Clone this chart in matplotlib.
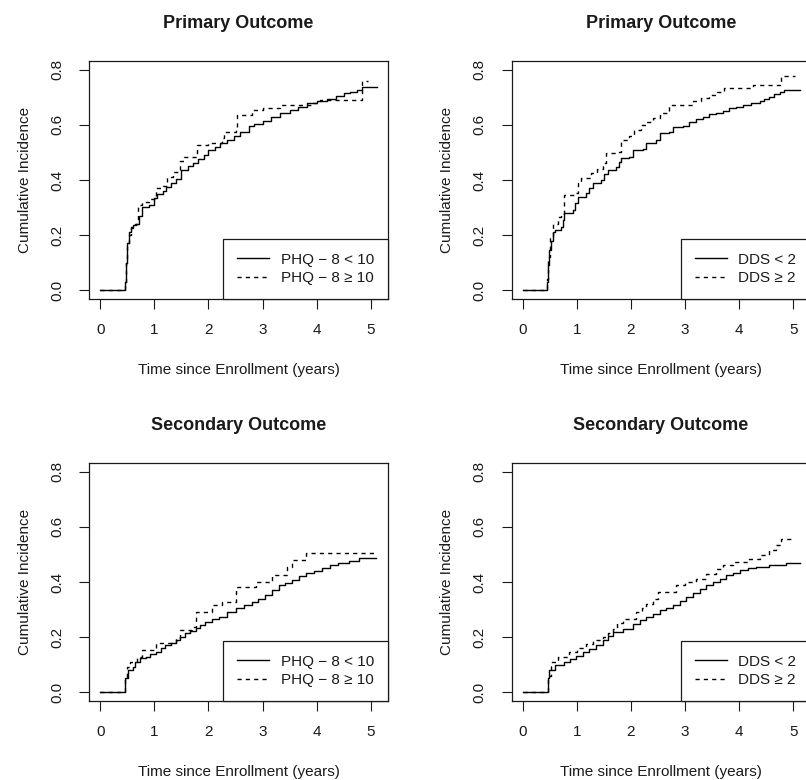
import matplotlib
matplotlib.use("Agg")
import matplotlib.pyplot as plt

plt.rcParams['font.family'] = ['Liberation Sans', 'DejaVu Sans']

# --- data (time in years, cumulative incidence) ---
# Primary outcome, PHQ-8
p_phq_lo_t = [0, 0.43, 0.46, 0.48, 0.50, 0.53, 0.56, 0.60, 0.66, 0.72, 0.77, 0.90, 1.00, 1.04,
              1.15, 1.22, 1.30, 1.40, 1.50, 1.62, 1.72, 1.80, 1.92, 2.00, 2.12, 2.22, 2.35,
              2.48, 2.58, 2.74, 2.85, 3.00, 3.15, 3.33, 3.50, 3.65, 3.82, 4.00, 4.19, 4.35,
              4.50, 4.62, 4.75, 4.84, 5.12]
p_phq_lo_v = [0, 0, 0.03, 0.10, 0.17, 0.21, 0.225, 0.235, 0.24, 0.27, 0.303, 0.31, 0.335, 0.35,
              0.36, 0.375, 0.39, 0.405, 0.435, 0.45, 0.46, 0.475, 0.49, 0.51, 0.52, 0.535, 0.545,
              0.56, 0.575, 0.595, 0.605, 0.615, 0.63, 0.645, 0.655, 0.665, 0.678, 0.685, 0.693,
              0.705, 0.715, 0.72, 0.727, 0.737, 0.737]
p_phq_hi_t = [0, 0.43, 0.46, 0.48, 0.50, 0.53, 0.57, 0.65, 0.70, 0.77, 0.90, 1.02, 1.15, 1.23,
              1.35, 1.48, 1.55, 1.79, 2.00, 2.25, 2.28, 2.50, 2.53, 2.80, 3.00, 3.33, 3.94,
              4.06, 4.81, 4.84, 4.95]
p_phq_hi_v = [0, 0, 0.03, 0.10, 0.17, 0.20, 0.23, 0.24, 0.31, 0.321, 0.33, 0.37, 0.38, 0.412,
              0.43, 0.47, 0.485, 0.527, 0.535, 0.551, 0.576, 0.582, 0.636, 0.654, 0.66, 0.673,
              0.679, 0.69, 0.69, 0.761, 0.761]

# Primary outcome, DDS
p_dds_lo_t = [0, 0.42, 0.45, 0.47, 0.49, 0.52, 0.56, 0.59, 0.71, 0.74, 0.77, 0.93, 0.97, 1.02,
              1.17, 1.23, 1.29, 1.45, 1.51, 1.57, 1.73, 1.78, 1.82, 1.97, 2.03, 2.22, 2.28,
              2.47, 2.53, 2.71, 2.77, 2.96, 3.08, 3.20, 3.33, 3.45, 3.58, 3.70, 3.82, 3.95,
              4.07, 4.22, 4.38, 4.47, 4.56, 4.65, 4.75, 4.84, 5.12]
p_dds_lo_v = [0, 0, 0.03, 0.09, 0.145, 0.18, 0.21, 0.218, 0.23, 0.255, 0.279, 0.291, 0.315, 0.339,
              0.352, 0.37, 0.388, 0.40, 0.42, 0.436, 0.448, 0.465, 0.479, 0.485, 0.509, 0.512,
              0.533, 0.545, 0.57, 0.576, 0.594, 0.596, 0.612, 0.62, 0.63, 0.638, 0.645, 0.652,
              0.661, 0.666, 0.673, 0.678, 0.685, 0.694, 0.703, 0.712, 0.721, 0.727, 0.727]
p_dds_hi_t = [0, 0.42, 0.45, 0.47, 0.50, 0.555, 0.65, 0.70, 0.77, 0.96, 1.02, 1.08, 1.26, 1.37,
              1.48, 1.54, 1.73, 1.82, 1.97, 2.06, 2.18, 2.28, 2.40, 2.53, 2.71, 3.14, 3.30,
              3.45, 3.60, 3.73, 4.25, 4.75, 4.78, 5.03]
p_dds_hi_v = [0, 0, 0.04, 0.12, 0.19, 0.242, 0.267, 0.273, 0.345, 0.352, 0.388, 0.406, 0.424, 0.44,
              0.46, 0.497, 0.503, 0.545, 0.558, 0.582, 0.598, 0.612, 0.625, 0.642, 0.673, 0.685,
              0.697, 0.709, 0.72, 0.733, 0.745, 0.755, 0.778, 0.778]

# Secondary outcome, PHQ-8
s_phq_lo_t = [0, 0.44, 0.46, 0.52, 0.60, 0.64, 0.74, 0.85, 0.92, 1.03, 1.12, 1.20, 1.30, 1.39,
              1.48, 1.57, 1.66, 1.76, 1.85, 1.94, 2.07, 2.19, 2.35, 2.50, 2.65, 2.80, 2.92,
              3.05, 3.17, 3.30, 3.42, 3.55, 3.68, 3.80, 3.95, 4.10, 4.25, 4.40, 4.60, 4.78, 5.09]
s_phq_lo_v = [0, 0, 0.05, 0.081, 0.09, 0.111, 0.123, 0.128, 0.14, 0.147, 0.16, 0.172, 0.18, 0.19,
              0.202, 0.214, 0.222, 0.232, 0.245, 0.256, 0.265, 0.274, 0.29, 0.305, 0.317, 0.329,
              0.34, 0.353, 0.37, 0.389, 0.398, 0.407, 0.42, 0.432, 0.44, 0.45, 0.46, 0.468,
              0.477, 0.486, 0.486]
s_phq_hi_t = [0, 0.44, 0.46, 0.50, 0.55, 0.67, 0.77, 1.03, 1.39, 1.48, 1.70, 1.76, 2.07, 2.25,
              2.50, 2.87, 3.18, 3.45, 3.55, 3.80, 5.09]
s_phq_hi_v = [0, 0, 0.05, 0.09, 0.111, 0.129, 0.153, 0.178, 0.196, 0.226, 0.238, 0.292, 0.317,
              0.329, 0.383, 0.401, 0.425, 0.456, 0.48, 0.504, 0.504]

# Secondary outcome, DDS
s_dds_lo_t = [0, 0.44, 0.47, 0.49, 0.59, 0.77, 0.88, 0.99, 1.11, 1.23, 1.35, 1.48, 1.57, 1.66,
              1.85, 2.03, 2.16, 2.28, 2.40, 2.53, 2.65, 2.77, 2.90, 3.02, 3.15, 3.27, 3.39,
              3.51, 3.64, 3.76, 3.88, 4.01, 4.16, 4.32, 4.56, 4.87, 5.12]
s_dds_lo_v = [0, 0, 0.05, 0.079, 0.097, 0.109, 0.12, 0.133, 0.145, 0.158, 0.172, 0.188, 0.205,
              0.218, 0.23, 0.249, 0.262, 0.273, 0.285, 0.297, 0.306, 0.315, 0.33, 0.345, 0.36,
              0.376, 0.388, 0.40, 0.412, 0.424, 0.433, 0.442, 0.45, 0.456, 0.463, 0.468, 0.468]
s_dds_hi_t = [0, 0.44, 0.47, 0.52, 0.65, 0.86, 1.00, 1.17, 1.30, 1.48, 1.57, 1.66, 1.75, 1.85,
              2.10, 2.20, 2.28, 2.40, 2.50, 2.83, 3.00, 3.20, 3.38, 3.57, 3.70, 3.88, 4.19,
              4.38, 4.55, 4.69, 4.78, 5.03]
s_dds_hi_v = [0, 0, 0.06, 0.109, 0.127, 0.145, 0.16, 0.176, 0.19, 0.20, 0.215, 0.23, 0.25, 0.267,
              0.291, 0.305, 0.321, 0.34, 0.364, 0.388, 0.40, 0.412, 0.43, 0.448, 0.46, 0.473,
              0.485, 0.497, 0.515, 0.533, 0.555, 0.555]

titles = ["Primary Outcome", "Primary Outcome", "Secondary Outcome", "Secondary Outcome"]
phq_labels = ["PHQ \u2212 8 < 10", "PHQ \u2212 8 \u2265 10"]
dds_labels = ["DDS < 2", "DDS \u2265 2"]
x_ticks = [0, 1, 2, 3, 4, 5]
y_ticks = [0.0, 0.2, 0.4, 0.6, 0.8]

TEXT = '#1a1a1a'
FS = 11


def draw_panel(ax, title, t_lo, v_lo, t_hi, v_hi, labels):
    ax.plot(t_lo, v_lo, drawstyle='steps-post', color='black', lw=1.0, label=labels[0])
    ax.plot(t_hi, v_hi, drawstyle='steps-post', color='black', lw=1.0,
            dashes=(3, 3), label=labels[1])
    ax.set_xlim(-0.2044, 5.3144)
    ax.set_ylim(-0.032, 0.832)
    ax.set_xticks(x_ticks)
    ax.set_yticks(y_ticks)
    ax.set_yticklabels(["%.1f" % v for v in y_ticks])
    ax.tick_params(direction='out', length=7, width=0.8, color=TEXT,
                   labelsize=FS, labelcolor=TEXT)
    ax.tick_params(axis='x', pad=10)
    ax.tick_params(axis='y', pad=11, labelrotation=90)
    for lab in ax.get_yticklabels():
        lab.set_va('center')
    for sp in ax.spines.values():
        sp.set_linewidth(0.9)
        sp.set_color(TEXT)
    ax.set_xlabel("Time since Enrollment (years)", fontsize=FS, color=TEXT, va='center')
    ax.xaxis.set_label_coords(0.5, -0.298)
    ax.set_ylabel("Cumulative Incidence", fontsize=FS, color=TEXT, va='center')
    ax.yaxis.set_label_coords(-0.2155, 0.5)
    ax.set_title(title, fontsize=13, fontweight='bold', color=TEXT, y=1.122, va='center')
    leg = ax.legend(loc='lower right', bbox_to_anchor=(1, 0), borderaxespad=0,
                    fancybox=False, framealpha=1, edgecolor=TEXT, fontsize=FS,
                    handlelength=2.1, handletextpad=0.75, labelspacing=0.3, borderpad=0.9)
    leg.get_frame().set_linewidth(0.9)
    for txt in leg.get_texts():
        txt.set_color(TEXT)


fig = plt.figure(figsize=(8.06, 7.80), dpi=100)
ax_w = 298.4 / 806
ax_h = 238 / 780
lefts = [89.3 / 806, 511.7 / 806]
bottoms = [(780 - 299) / 780, (780 - 701) / 780]

axs = [fig.add_axes([lefts[0], bottoms[0], ax_w, ax_h]),
       fig.add_axes([lefts[1], bottoms[0], ax_w, ax_h]),
       fig.add_axes([lefts[0], bottoms[1], ax_w, ax_h]),
       fig.add_axes([lefts[1], bottoms[1], ax_w, ax_h])]

draw_panel(axs[0], titles[0], p_phq_lo_t, p_phq_lo_v, p_phq_hi_t, p_phq_hi_v, phq_labels)
draw_panel(axs[1], titles[1], p_dds_lo_t, p_dds_lo_v, p_dds_hi_t, p_dds_hi_v, dds_labels)
draw_panel(axs[2], titles[2], s_phq_lo_t, s_phq_lo_v, s_phq_hi_t, s_phq_hi_v, phq_labels)
draw_panel(axs[3], titles[3], s_dds_lo_t, s_dds_lo_v, s_dds_hi_t, s_dds_hi_v, dds_labels)

fig.savefig('out.png', dpi=100)
